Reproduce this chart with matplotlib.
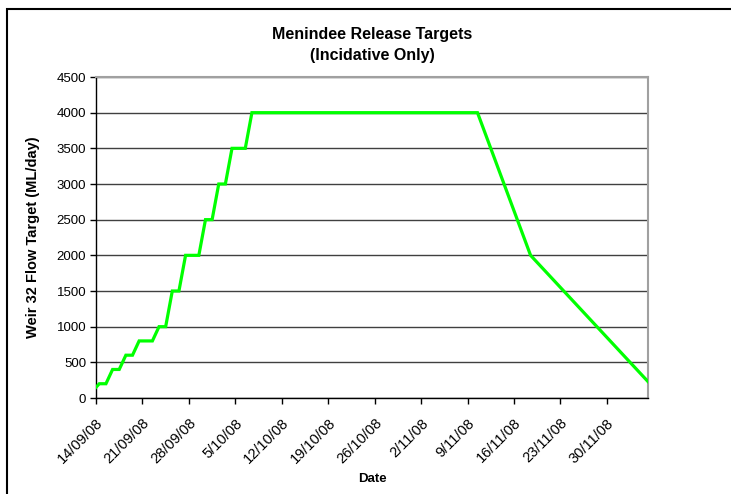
import datetime as dt
import matplotlib
matplotlib.use('Agg')
from matplotlib import pyplot as plt
from matplotlib.patches import Rectangle
import matplotlib.dates as mdates
import numpy as np
import pandas as pd

plt.rcParams['font.family'] = ['Liberation Sans', 'DejaVu Sans']

# Release targets (vertices of the line), ML/day
target_dates = ['2008-09-13', '2008-09-14', '2008-09-15', '2008-09-16', '2008-09-17',
                '2008-09-18', '2008-09-19', '2008-09-20', '2008-09-22', '2008-09-23',
                '2008-09-24', '2008-09-25', '2008-09-26', '2008-09-27', '2008-09-29',
                '2008-09-30', '2008-10-01', '2008-10-02', '2008-10-03', '2008-10-04',
                '2008-10-06', '2008-10-07', '2008-11-10', '2008-11-18', '2008-12-06']
target_flow = [100, 200, 200, 400, 400,
               600, 600, 800, 800, 1000,
               1000, 1500, 1500, 2000, 2000,
               2500, 2500, 3000, 3000, 3500,
               3500, 4000, 4000, 2000, 200]

tick_dates = pd.date_range('2008-09-14', '2008-11-30', freq='7D')
y_ticks = np.arange(0, 4501, 500)

# Excel puts each daily point in the middle of its day
dates = pd.to_datetime(target_dates) + pd.Timedelta(hours=12)

fig = plt.figure(figsize=(7.31, 4.94), dpi=100)
ax = fig.add_axes([96/731, 1-398/494, 552/731, 321/494])

# outer chart border (only top/left visible in the crop)
fig.patches.append(Rectangle((7/731, -0.1), 1.2, (1-9/494)+0.1, transform=fig.transFigure,
                             fill=False, edgecolor='black', lw=1.5))

ax.plot(dates, target_flow, color='#00ff00', lw=2.3, solid_joinstyle='miter', zorder=3)

ax.set_xlim(pd.Timestamp('2008-09-14'), pd.Timestamp('2008-09-14') + pd.Timedelta(days=83.2))
ax.set_ylim(0, 4500)
ax.set_yticks(y_ticks)
ax.set_xticks(tick_dates)
ax.xaxis.set_major_formatter(plt.FuncFormatter(
    lambda v, p: (lambda d: f'{d.day}/{d.month:02d}/{d.year % 100:02d}')(mdates.num2date(v))))

ax.grid(axis='y', color='#404040', lw=1.0)
ax.set_axisbelow(True)
ax.tick_params(axis='y', direction='out', length=4, width=1, labelsize=9.5, pad=3)
ax.tick_params(axis='x', direction='out', length=4, width=1, labelsize=10.5, pad=9)
for lab in ax.get_xticklabels():
    lab.set_rotation(45)
    lab.set_ha('right')
    lab.set_rotation_mode('anchor')
for s in ['top', 'right']:
    ax.spines[s].set_color('#a0a0a0')
    ax.spines[s].set_linewidth(1.5)
for s in ['left', 'bottom']:
    ax.spines[s].set_color('black')
    ax.spines[s].set_linewidth(1.0)

ax.set_xlabel('Date', fontsize=9.5, fontweight='bold', labelpad=5)
ax.set_ylabel('Weir 32 Flow Target (ML/day)', fontsize=10.5, fontweight='bold', labelpad=12)
fig.text(372/731, 1-45/494, 'Menindee Release Targets\n(Incidative Only)', ha='center',
         va='center', fontsize=11.5, fontweight='bold', linespacing=1.5)

fig.savefig('out.png', dpi=100)
